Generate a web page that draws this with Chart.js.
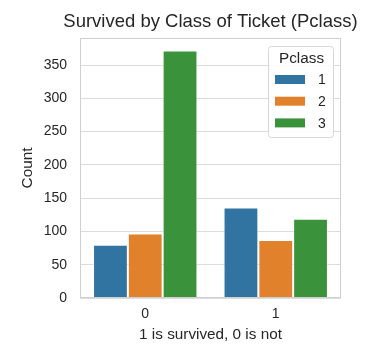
<!DOCTYPE html>
<html>
<head>
<meta charset="utf-8">
<script src="https://cdn.jsdelivr.net/npm/chart.js@4"></script>
<style>
  html, body { margin: 0; padding: 0; background: #fff; }
  #wrap { width: 386px; height: 352px; }
</style>
</head>
<body>
<div id="wrap"><canvas id="survived-chart" width="386" height="352"></canvas></div>
<script>
// counts per Survived value, one series per Pclass
const survived_labels = ["0", "1"];
const class_names = ["1", "2", "3"];
const class1_counts = [80, 136];
const class2_counts = [97, 87];
const class3_counts = [372, 119];
const class_colors = ["#3274a1", "#e1812c", "#3a923a"];

const chart_title = "Survived by Class of Ticket (Pclass)";
const legend_title = "Pclass";

const text_color = "#262626";
const grid_color = "#dcdcdc";
const font_family = "'Liberation Sans', Arial, sans-serif";

Chart.defaults.font.family = font_family;
Chart.defaults.color = text_color;

const ctx = document.getElementById("survived-chart").getContext("2d");

// frame around plot area + title centred over the axes (like matplotlib)
const framePlugin = {
  id: "frame",
  afterDatasetsDraw(chart) {
    const { ctx, chartArea: a } = chart;
    ctx.save();
    ctx.strokeStyle = "#cfcfcf";
    ctx.lineWidth = 1;
    ctx.strokeRect(a.left + 0.5, a.top + 0.5, a.right - a.left - 1, a.bottom - a.top - 1);

    ctx.fillStyle = text_color;
    ctx.font = "18.5px " + font_family;
    ctx.textAlign = "center";
    ctx.textBaseline = "middle";
    ctx.fillText(chart_title, (a.left + a.right) / 2, 22);
    ctx.restore();
  }
};

// legend box drawn inside the plot (upper right), matplotlib style
const legendBoxPlugin = {
  id: "legendBox",
  afterDraw(chart) {
    const { ctx, chartArea: a } = chart;
    const w = 65, h = 91;
    const x = a.right - 8 - w, y = a.top + 8;
    ctx.save();
    ctx.beginPath();
    ctx.roundRect(x + 0.5, y + 0.5, w, h, 3);
    ctx.fillStyle = "rgba(255,255,255,0.85)";
    ctx.fill();
    ctx.strokeStyle = "#d6d6d6";
    ctx.lineWidth = 1;
    ctx.stroke();

    ctx.fillStyle = text_color;
    ctx.font = "15.3px " + font_family;
    ctx.textAlign = "center";
    ctx.textBaseline = "middle";
    ctx.fillText(legend_title, x + w / 2 + 1, y + 13);

    chart.data.datasets.forEach((ds, i) => {
      const cy = y + 33.5 + i * 21.7;
      ctx.fillStyle = ds.backgroundColor;
      ctx.fillRect(x + 7, cy - 4.5, 30, 9);
      ctx.fillStyle = text_color;
      ctx.font = "14px " + font_family;
      ctx.textAlign = "center";
      ctx.fillText(ds.label, x + 54, cy + 1);
    });
    ctx.restore();
  }
};

const graph = new Chart(ctx, {
  type: "bar",
  data: {
    labels: survived_labels,
    datasets: [
      { label: class_names[0], data: class1_counts, backgroundColor: class_colors[0] },
      { label: class_names[1], data: class2_counts, backgroundColor: class_colors[1] },
      { label: class_names[2], data: class3_counts, backgroundColor: class_colors[2] }
    ].map(ds => Object.assign(ds, {
      borderColor: "rgba(255,255,255,0.55)",
      borderWidth: 1,
      categoryPercentage: 0.8,
      barPercentage: 1.0
    }))
  },
  options: {
    responsive: false,
    animation: false,
    layout: { padding: { left: 0, right: 45, top: 38, bottom: 0 } },
    plugins: {
      legend: { display: false },
      tooltip: { enabled: false },
      title: { display: false }
    },
    scales: {
      x: {
        grid: { display: false, drawTicks: false },
        border: { display: false },
        ticks: { padding: 8, font: { size: 14 }, color: text_color },
        title: {
          display: true,
          text: "1 is survived, 0 is not",
          color: text_color,
          font: { size: 15.3 },
          padding: { top: 0, bottom: 8 }
        },
        afterFit: s => { s.height = 54; }
      },
      y: {
        min: 0,
        max: 390.6,
        grid: { color: grid_color, drawTicks: false },
        border: { display: false },
        ticks: { stepSize: 50, padding: 13, font: { size: 14 }, color: text_color },
        afterBuildTicks: s => { s.ticks = s.ticks.filter(t => t.value % 50 === 0); },
        title: {
          display: true,
          text: "Count",
          color: text_color,
          font: { size: 15.3 },
          padding: { top: 19, bottom: 0 }
        },
        afterFit: s => { s.width = 80; }
      }
    }
  },
  plugins: [framePlugin, legendBoxPlugin]
});
</script>
</body>
</html>
